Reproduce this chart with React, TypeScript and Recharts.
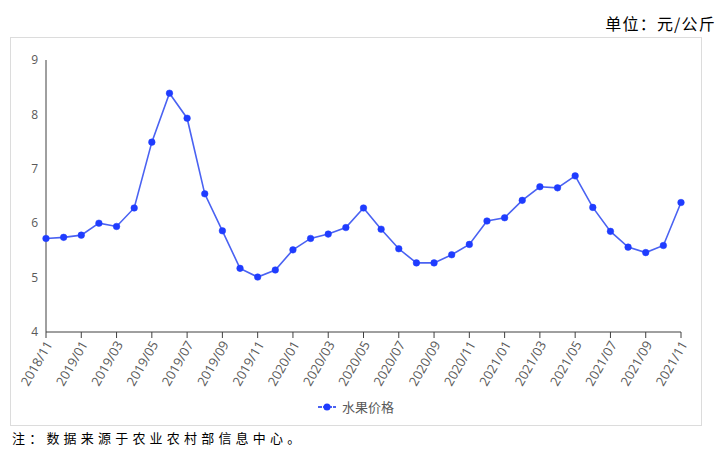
import React from 'react';
import { LineChart, Line, XAxis, YAxis, Legend } from 'recharts';

const months = [
  '2018/11', '2018/12', '2019/01', '2019/02', '2019/03', '2019/04', '2019/05', '2019/06', '2019/07',
  '2019/08', '2019/09', '2019/10', '2019/11', '2019/12', '2020/01', '2020/02', '2020/03', '2020/04',
  '2020/05', '2020/06', '2020/07', '2020/08', '2020/09', '2020/10', '2020/11', '2020/12', '2021/01',
  '2021/02', '2021/03', '2021/04', '2021/05', '2021/06', '2021/07', '2021/08', '2021/09', '2021/10',
  '2021/11',
];

const fruitPrices = [
  5.72, 5.74, 5.78, 6.0, 5.94, 6.28, 7.49, 8.39, 7.93,
  6.54, 5.86, 5.17, 5.01, 5.14, 5.51, 5.72, 5.8, 5.92,
  6.28, 5.89, 5.53, 5.27, 5.27, 5.42, 5.61, 6.04, 6.1,
  6.42, 6.67, 6.65, 6.87, 6.29, 5.85, 5.56, 5.46, 5.59,
  6.38,
];

const yTicks = [4, 5, 6, 7, 8, 9];
const seriesName = '水果价格';
const unitText = '单位：元/公斤';
const noteText = '注：数据来源于农业农村部信息中心。';

const data = months.map((m, i) => ({ month: m, price: fruitPrices[i] }));

const LINE_COLOR = '#4a62f2';
const DOT_COLOR = '#1f3cff';
const LABEL_COLOR = '#595959';
const SANS = '"Open Sans", "Noto Sans", sans-serif';
const CJK = '"Noto Sans CJK SC", sans-serif';

const XTick = (props: any) => {
  const { x, y, payload } = props;
  return (
    <g transform={`translate(${x + 3},${y + 2})`}>
      <text
        x={0}
        y={0}
        dy="0.35em"
        textAnchor="end"
        transform="rotate(-60)"
        fill={LABEL_COLOR}
        fontSize={13}
        fontFamily={SANS}
      >
        {payload.value}
      </text>
    </g>
  );
};

const LegendContent = () => (
  <div style={{ display: 'flex', alignItems: 'center', fontFamily: CJK, fontSize: 13, color: LABEL_COLOR }}>
    <svg width={18} height={10} style={{ marginRight: 6 }}>
      <line x1={0} y1={5} x2={18} y2={5} stroke={LINE_COLOR} strokeWidth={2} strokeDasharray="4 1" />
      <circle cx={9} cy={5} r={3.5} fill={DOT_COLOR} />
    </svg>
    <span>{seriesName}</span>
  </div>
);

export default function App() {
  return (
    <div style={{ position: 'absolute', left: 0, top: 0, width: 725, height: 462, background: '#fff' }}>
      <div
        style={{
          position: 'absolute',
          right: 9,
          top: 13,
          fontFamily: CJK,
          fontSize: 16,
          lineHeight: '20px',
          color: '#000',
          letterSpacing: 1.2,
          whiteSpace: 'nowrap',
        }}
      >
        {unitText}
      </div>
      <div
        style={{
          position: 'absolute',
          left: 10,
          top: 37,
          width: 692,
          height: 389,
          boxSizing: 'border-box',
          border: '1px solid #dcdcdc',
        }}
      />
      <div style={{ position: 'absolute', left: 0, top: 0 }}>
        <LineChart width={725} height={462} data={data} margin={{ top: 60, right: 44, left: 10, bottom: 51 }}>
          <XAxis
            dataKey="month"
            interval={1}
            height={60}
            tick={<XTick />}
            tickSize={6}
            axisLine={{ stroke: '#404040' }}
            tickLine={{ stroke: '#404040' }}
          />
          <YAxis
            domain={[4, 9]}
            ticks={yTicks}
            width={36}
            tickLine={false}
            tickMargin={2}
            axisLine={{ stroke: '#404040' }}
            tick={{ fill: LABEL_COLOR, fontSize: 12, fontFamily: SANS }}
          />
          <Legend
            layout="vertical"
            align="center"
            verticalAlign="bottom"
            content={<LegendContent />}
            wrapperStyle={{ position: 'absolute', left: 318, top: 397, width: 'auto', bottom: 'auto' }}
          />
          <Line
            type="linear"
            dataKey="price"
            name={seriesName}
            stroke={LINE_COLOR}
            strokeWidth={1.6}
            dot={{ r: 3.3, fill: DOT_COLOR, stroke: DOT_COLOR, strokeWidth: 0.5 }}
            activeDot={false}
            isAnimationActive={false}
          />
        </LineChart>
      </div>
      <div
        style={{
          position: 'absolute',
          left: 12,
          top: 429,
          fontFamily: CJK,
          fontSize: 13,
          lineHeight: '18px',
          letterSpacing: 4.2,
          color: '#000',
          whiteSpace: 'nowrap',
        }}
      >
        {noteText}
      </div>
    </div>
  );
}
